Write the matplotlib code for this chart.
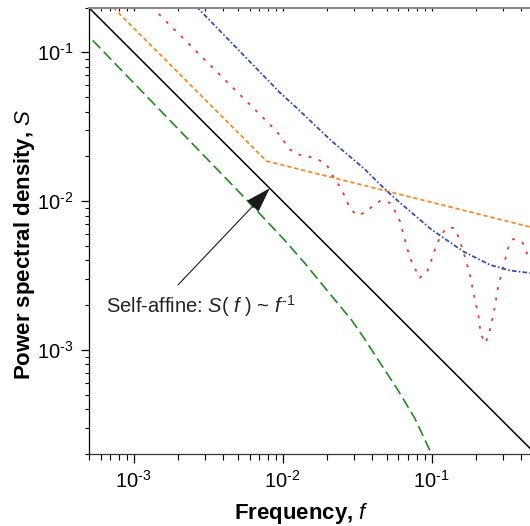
import math

import matplotlib

matplotlib.use("Agg")
import matplotlib.pyplot as plt  # noqa: E402
from matplotlib.ticker import FuncFormatter, LogLocator  # noqa: E402

plt.rcParams["font.family"] = ["Liberation Sans", "DejaVu Sans"]
plt.rcParams["mathtext.fontset"] = "custom"
plt.rcParams["mathtext.rm"] = "Liberation Sans"
plt.rcParams["mathtext.it"] = "Liberation Sans:italic"
plt.rcParams["mathtext.bf"] = "Liberation Sans:bold"

# reference slope: S(f) ~ f^-1
self_affine_f = [5e-4, 0.5]
self_affine_s = [0.2, 2e-4]

# green: rolls off at high frequency
green_f = [5.32e-4, 5.71e-3, 0.01035, 0.01409, 0.02133, 0.02904, 0.03565,
           0.04624, 0.0597, 0.07727, 0.1002]
green_s = [0.1202, 0.01026, 5.45e-3, 3.83e-3, 2.31e-3, 1.59e-3, 1.18e-3,
           7.9e-4, 5.35e-4, 3.47e-4, 1.99e-4]

# orange: two power laws with a crossover
orange_f = [7.3e-4, 7.8e-3, 0.458]
orange_s = [0.2, 0.0186, 6.71e-3]

# red: oscillating spectrum
red_f = [1.315e-3, 9.10e-3, 0.01117, 0.01239, 0.01449, 0.0169, 0.01972,
         0.02183, 0.02489, 0.02831, 0.03141, 0.03565, 0.04055, 0.04571,
         0.05248, 0.05675, 0.06138, 0.06622, 0.07161, 0.07727, 0.0826,
         0.09268, 0.0975, 0.1026, 0.1081, 0.1169, 0.1262, 0.1416, 0.151,
         0.1618, 0.1722, 0.1811, 0.1928, 0.2061, 0.2138, 0.2286, 0.2404,
         0.26, 0.2805, 0.3034, 0.3273, 0.354, 0.4093, 0.4355, 0.4581]
red_s = [0.203, 0.0296, 0.0223, 0.0207, 0.0201, 0.0193, 0.0177,
         0.0147, 0.012, 9.02e-3, 8.02e-3, 8.36e-3, 9.31e-3, 0.01012,
         9.75e-3, 8.57e-3, 7.33e-3, 5.52e-3, 4.15e-3, 3.56e-3, 3.04e-3,
         3.29e-3, 3.74e-3, 4.37e-3, 5.11e-3, 5.96e-3, 6.62e-3, 6.62e-3, 5.81e-3,
         4.72e-3, 3.84e-3, 3.2e-3, 2.34e-3, 1.72e-3, 1.29e-3, 1.11e-3, 1.23e-3,
         1.72e-3, 2.67e-3, 3.64e-3, 4.85e-3, 5.57e-3, 5.24e-3, 4.49e-3, 3.94e-3]

# blue: flattens towards a white-noise floor
blue_f = [2.64e-3, 9.57e-3, 0.0127, 0.0213, 0.0356, 0.0439, 0.0512, 0.0597,
          0.1, 0.163, 0.217, 0.247, 0.337, 0.458]
blue_s = [0.203, 0.0538, 0.0415, 0.0254, 0.0164, 0.0133, 0.0115, 0.01,
          6.44e-3, 4.6e-3, 3.98e-3, 3.73e-3, 3.42e-3, 3.29e-3]


def decade_label(v, _pos):
    # powers of ten with a plain hyphen in the exponent
    exp = int(round(math.log10(v)))
    sign = "-" if exp < 0 else ""
    return r"$\mathdefault{10^{\text{%s%d}}}$" % (sign, abs(exp))


def main() -> None:
    fig = plt.figure(figsize=(5.3, 5.26), dpi=100)
    ax = fig.add_axes([0.1674, 0.1369, 0.8326, 0.8488])

    ax.plot(self_affine_f, self_affine_s, color="black", lw=1.1)
    ax.plot(green_f, green_s, color="#1e8c1e", lw=1.2, ls=(0, (6.5, 3)))
    ax.plot(orange_f, orange_s, color="#f58a2a", lw=1.3, ls=(0, (2.4, 1.6)))
    ax.plot(red_f, red_s, color="#e53935", lw=1.3, ls=(0, (1.6, 4.2)))
    ax.plot(blue_f, blue_s, color="#3a4fa8", lw=1.3,
            ls=(0, (2.6, 1.2, 0.9, 1.2)))

    ax.set_xscale("log")
    ax.set_yscale("log")
    ax.set_xlim(5e-4, 0.458)
    ax.set_ylim(2e-4, 0.2)
    for axis in (ax.xaxis, ax.yaxis):
        axis.set_major_locator(LogLocator(base=10))
        axis.set_major_formatter(FuncFormatter(decade_label))

    ax.annotate("", xy=(8.2e-3, 0.0122), xytext=(1.99e-3, 2.74e-3),
                arrowprops=dict(arrowstyle="-|>,head_length=1.0,head_width=0.32",
                                color="#1a1a1a", lw=0.8, mutation_scale=16,
                                shrinkA=0, shrinkB=0))
    ax.text(6.56e-4, 1.77e-3, r"Self-affine: $S$( $f$ ) ~ $f^{\text{-1}}$",
            fontsize=14.5, va="baseline", ha="left", color="#222222")

    ax.set_xlabel(r"Frequency, $f$", fontsize=16, fontweight="bold")
    ax.set_ylabel(r"Power spectral density, $S$", fontsize=16, fontweight="bold")
    ax.xaxis.set_label_coords(0.483, -0.105)
    ax.yaxis.set_label_coords(-0.118, 0.47)

    ax.spines["right"].set_visible(False)
    ax.spines["top"].set_color("#8a8a8a")
    ax.spines["top"].set_linewidth(1.5)
    ax.spines["left"].set_linewidth(0.9)
    ax.spines["bottom"].set_linewidth(0.9)
    ax.spines["bottom"].set_color("#333333")

    ax.tick_params(which="both", direction="out", labelsize=14.5, pad=5,
                   top=False, right=False)
    ax.tick_params(axis="x", which="major", length=6.5, width=0.9)
    ax.tick_params(axis="x", which="minor", length=4, width=0.8)
    ax.tick_params(axis="y", which="major", length=6, width=0.9)
    ax.tick_params(axis="y", which="minor", length=3.2, width=0.8)
    ax.tick_params(axis="x", which="both", top=True)
    for t in ax.xaxis.get_ticklines(minor=False)[1::2] + ax.xaxis.get_ticklines(minor=True)[1::2]:
        t.set_marker(3)
        t.set_markersize(2)
        t.set_color("#555555")

    fig.savefig("out.png", dpi=100)


if __name__ == "__main__":
    main()
